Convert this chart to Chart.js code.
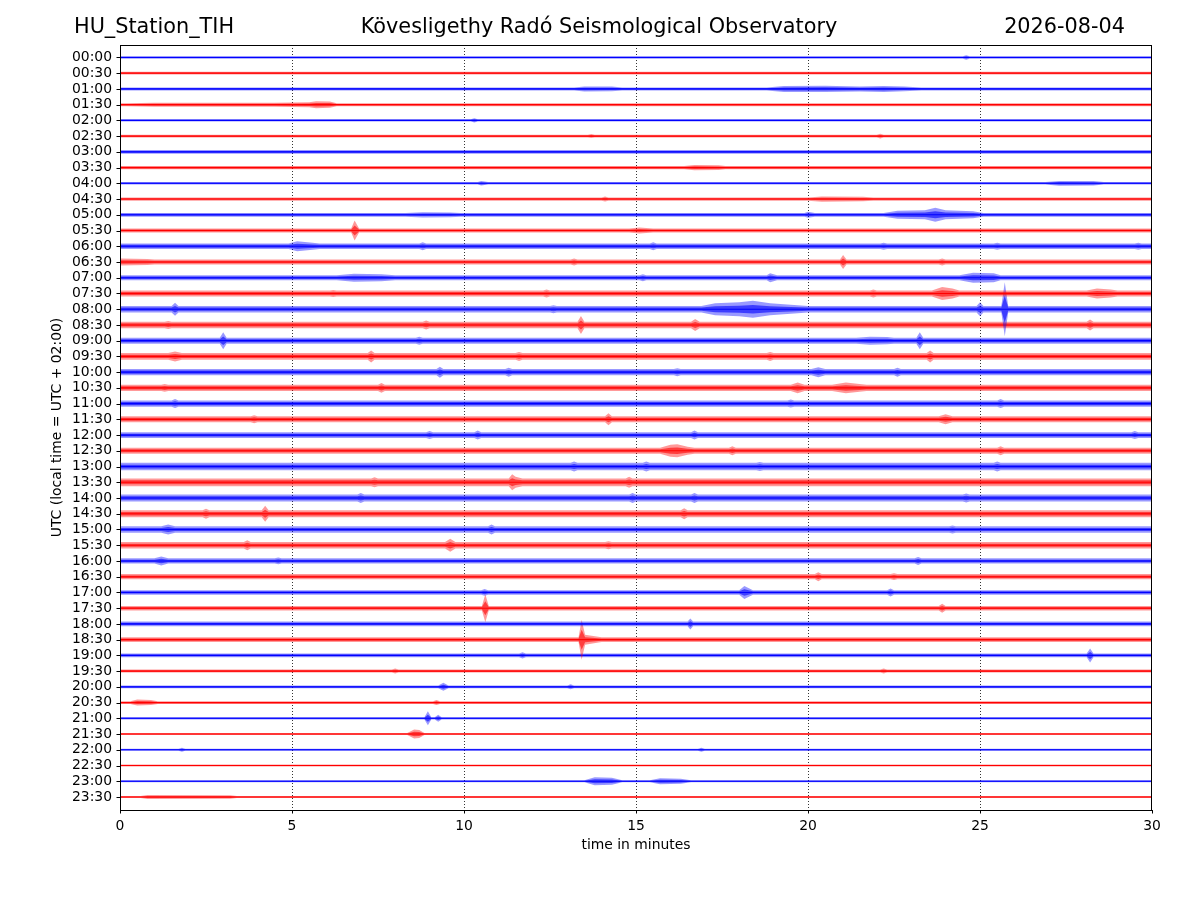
<!DOCTYPE html>
<html>
<head>
<meta charset="utf-8">
<script src="https://cdn.jsdelivr.net/npm/chart.js@4.4.1/dist/chart.umd.min.js"></script>
<style>
  html, body { margin: 0; padding: 0; background: #fff; }
  #wrap { width: 1200px; height: 900px; }
</style>
</head>
<body>
<div id="wrap"><canvas id="heli" width="1200" height="900"></canvas></div>
<script>
// Sor címkék (30 perces sávok, UTC)
const traceLabels = [
  "00:00", "00:30", "01:00", "01:30", "02:00", "02:30", "03:00", "03:30",
  "04:00", "04:30", "05:00", "05:30", "06:00", "06:30", "07:00", "07:30",
  "08:00", "08:30", "09:00", "09:30", "10:00", "10:30", "11:00", "11:30",
  "12:00", "12:30", "13:00", "13:30", "14:00", "14:30", "15:00", "15:30",
  "16:00", "16:30", "17:00", "17:30", "18:00", "18:30", "19:00", "19:30",
  "20:00", "20:30", "21:00", "21:30", "22:00", "22:30", "23:00", "23:30"
];

const minuteTicks = [0, 5, 10, 15, 20, 25, 30];

// Háttérzaj fél-amplitúdója soronként (leolvasott érték)
const noiseLevel = [
  1.3, 1.3, 1.5, 1.5, 1.2, 1.4, 1.9, 1.6,
  1.3, 1.6, 1.9, 2.0, 2.8, 2.6, 2.6, 3.0,
  3.2, 3.2, 3.0, 3.3, 3.2, 3.2, 3.1, 3.0,
  2.8, 3.0, 3.8, 3.9, 3.6, 3.6, 3.2, 3.2,
  2.6, 2.6, 2.3, 2.3, 2.3, 2.3, 1.9, 1.5,
  1.3, 1.4, 1.2, 1.0, 1.0, 1.0, 0.9, 0.9
];

// Események burkolója: [perc, fél-amplitúdó]; 0 = zajszint
const eventPoints = [
  [[24.5,0],[24.6,2.2],[24.7,0]],
  [],
  [[13.2,0],[13.5,2.5],[14.3,2.3],[14.6,0],[18.8,0],[19.3,3],[20.5,3.2],[21.5,2.5],[22.2,3],[22.8,2.4],[23.3,0]],
  [[0.2,0],[1,2],[4.5,2],[5.5,2.5],[5.7,3.5],[6.1,3.2],[6.3,0]],
  [[10.2,0],[10.3,2.2],[10.4,0]],
  [[13.6,0],[13.7,2],[13.8,0],[22.0,0],[22.1,2.4],[22.2,0]],
  [],
  [[16.4,0],[16.7,2.6],[17.4,2.4],[17.6,0]],
  [[10.4,0],[10.5,2.3],[10.7,0],[26.9,0],[27.3,2.4],[28.3,2.2],[28.6,0]],
  [[14.0,0],[14.1,2.5],[14.2,0],[20.0,0],[20.4,2.6],[21.6,2.3],[21.9,0]],
  [[8.3,0],[8.8,2.6],[9.6,2.4],[9.9,0],[19.9,0],[20.0,3],[20.2,0],[22.2,0],[22.6,4],[23.4,4.5],[23.7,7],[24.0,4.5],[24.8,3.5],[25.1,0]],
  [[6.72,0],[6.82,10],[6.95,0],[14.8,0],[15.1,3],[15.5,0]],
  [[4.9,0],[5.15,5],[5.6,3.5],[5.8,0],[8.7,0],[8.8,4],[8.9,0],[15.4,0],[15.5,4],[15.6,0],[22.1,0],[22.2,3.5],[22.3,0],[25.4,0],[25.5,3.6],[25.6,0],[29.5,0],[29.6,3.6],[29.7,0]],
  [[0,3.4],[0.8,3],[1.0,0],[13.1,0],[13.2,3.4],[13.3,0],[20.93,0],[21.02,7],[21.12,0],[23.8,0],[23.9,3.4],[24.0,0]],
  [[6.3,0],[6.8,4],[7.6,3.6],[8.0,0],[15.1,0],[15.2,3.4],[15.3,0],[18.8,0],[18.9,4.5],[19.1,0],[24.4,0],[24.8,5],[25.4,4.5],[25.6,0]],
  [[6.1,0],[6.2,3.5],[6.3,0],[12.3,0],[12.4,4],[12.5,0],[21.8,0],[21.9,4],[22.0,0],[23.6,0],[23.9,6.5],[24.2,5],[24.4,0],[28.1,0],[28.4,5],[28.8,4],[29.0,0]],
  [[1.5,0],[1.6,6.5],[1.7,0],[12.5,0],[12.6,4],[12.7,0],[16.9,0],[17.3,6],[18.0,7],[18.4,8.5],[18.9,6],[19.5,4.5],[20.0,0],[24.9,0],[25.0,7],[25.1,0],[25.62,0],[25.72,27],[25.82,0]],
  [[1.3,0],[1.4,4],[1.5,0],[8.8,0],[8.9,4.5],[9.0,0],[13.3,0],[13.4,9],[13.5,0],[16.6,0],[16.72,6],[16.85,0],[28.1,0],[28.2,5.5],[28.3,0]],
  [[2.9,0],[3.0,8.5],[3.1,0],[8.6,0],[8.7,4],[8.8,0],[21.4,0],[21.8,4],[22.3,3.6],[22.5,0],[23.15,0],[23.25,8.5],[23.35,0]],
  [[1.4,0],[1.6,5],[1.8,0],[7.2,0],[7.3,6],[7.4,0],[11.5,0],[11.6,4.5],[11.7,0],[18.8,0],[18.9,4.5],[19.0,0],[23.45,0],[23.55,6],[23.65,0]],
  [[9.2,0],[9.3,5.5],[9.4,0],[11.2,0],[11.3,4.5],[11.4,0],[16.1,0],[16.2,4],[16.3,0],[20.1,0],[20.3,5],[20.5,0],[22.5,0],[22.6,4.5],[22.7,0]],
  [[1.2,0],[1.3,4],[1.4,0],[7.5,0],[7.6,5],[7.7,0],[19.5,0],[19.7,5.5],[19.9,0],[20.7,0],[21.1,5.5],[21.5,4],[21.7,0]],
  [[1.5,0],[1.6,4.5],[1.7,0],[19.4,0],[19.5,4],[19.6,0],[25.5,0],[25.6,4.5],[25.7,0]],
  [[3.8,0],[3.9,4],[4.0,0],[14.1,0],[14.2,6],[14.3,0],[23.8,0],[24.0,5],[24.2,0]],
  [[8.9,0],[9.0,4],[9.1,0],[10.3,0],[10.4,4.5],[10.5,0],[16.6,0],[16.7,4.5],[16.8,0],[29.4,0],[29.5,4],[29.6,0]],
  [[15.7,0],[16.0,6],[16.2,6.5],[16.5,4],[16.7,0],[17.7,0],[17.8,4.5],[17.9,0],[25.5,0],[25.6,4.5],[25.7,0]],
  [[13.1,0],[13.2,5],[13.3,0],[15.2,0],[15.3,5],[15.4,0],[18.5,0],[18.6,4.5],[18.7,0],[25.4,0],[25.5,5],[25.6,0]],
  [[7.3,0],[7.4,5],[7.5,0],[11.3,0],[11.4,8],[11.5,5.5],[11.7,0],[14.7,0],[14.8,5.5],[14.9,0]],
  [[6.9,0],[7.0,5],[7.1,0],[14.8,0],[14.9,5],[15.0,0],[16.6,0],[16.7,5],[16.8,0],[24.5,0],[24.6,4.5],[24.7,0]],
  [[2.4,0],[2.5,5],[2.6,0],[4.12,0],[4.22,8],[4.32,0],[16.3,0],[16.4,5.5],[16.5,0]],
  [[1.2,0],[1.4,5],[1.6,0],[10.7,0],[10.8,5],[10.9,0],[24.1,0],[24.2,4],[24.3,0]],
  [[3.6,0],[3.7,5],[3.8,0],[9.45,0],[9.6,6.5],[9.75,0],[14.1,0],[14.2,4],[14.3,0]],
  [[1.0,0],[1.2,4.5],[1.4,0],[4.5,0],[4.6,3.4],[4.7,0],[23.1,0],[23.2,4],[23.3,0]],
  [[20.2,0],[20.3,4.5],[20.4,0],[22.4,0],[22.5,3.4],[22.6,0]],
  [[10.5,0],[10.6,3.4],[10.7,0],[18.0,0],[18.15,6.5],[18.4,0],[22.3,0],[22.4,4],[22.5,0]],
  [[10.52,0],[10.62,14],[10.72,0],[23.8,0],[23.9,4.5],[24.0,0]],
  [[16.5,0],[16.58,5.5],[16.66,0]],
  [[13.33,0],[13.42,20],[13.52,5],[14.0,0]],
  [[11.6,0],[11.7,3.2],[11.8,0],[28.1,0],[28.2,7],[28.3,0]],
  [[7.9,0],[8.0,2.5],[8.1,0],[22.1,0],[22.2,2.5],[22.3,0]],
  [[9.25,0],[9.4,4],[9.55,0],[13.0,0],[13.1,2.5],[13.2,0]],
  [[0.3,0],[0.5,3],[0.9,2.5],[1.1,0],[9.1,0],[9.2,2.5],[9.3,0]],
  [[8.85,0],[8.95,7],[9.05,0],[9.15,0],[9.25,3.5],[9.35,0]],
  [[8.35,0],[8.55,4.5],[8.7,4],[8.85,0]],
  [[1.7,0],[1.8,2],[1.9,0],[16.8,0],[16.9,2],[17.0,0]],
  [],
  [[13.5,0],[13.8,4],[14.3,3.5],[14.6,0],[15.4,0],[15.7,3],[16.3,2.5],[16.6,0]],
  [[0.6,0],[0.8,2],[3.2,1.8],[3.4,0]]
];

const FONT = '"DejaVu Sans", "Liberation Sans", sans-serif';
const ampToY = 1 / 15.75; // amplitúdó -> sortávolság egység
const lineCols = ['#0000ff', '#ff0000'];
const outerFill = ['rgba(0,0,255,0.4)', 'rgba(255,0,0,0.4)'];
const innerFill = ['rgba(0,0,255,0.6)', 'rgba(255,0,0,0.6)'];

// Adatsorok: külső burkoló (felső+alsó), belső burkoló (fél amplitúdó), középvonal
const datasets = [];
traceLabels.forEach((label, i) => {
  const n = noiseLevel[i];
  const env = [[0, n], ...eventPoints[i].map(p => [p[0], Math.max(p[1], n)]), [30, n]];
  const c = i % 2;
  const band = (k, col) => {
    datasets.push({
      data: env.map(p => ({ x: p[0], y: i - p[1] * k * ampToY })),
      borderColor: 'rgba(0,0,0,0)', pointRadius: 0, fill: false
    });
    datasets.push({
      data: env.map(p => ({ x: p[0], y: i + p[1] * k * ampToY })),
      borderColor: 'rgba(0,0,0,0)', pointRadius: 0, fill: '-1', backgroundColor: col
    });
  };
  band(1, outerFill[c]);
  band(0.5, innerFill[c]);
  datasets.push({
    data: [{ x: 0, y: i }, { x: 30, y: i }],
    borderColor: lineCols[c], borderWidth: 1.1, pointRadius: 0, fill: false
  });
});

// Keret, pontozott rács, tick jelek és feliratok
const framePlugin = {
  id: 'frame',
  beforeDatasetsDraw(chart) {
    const { ctx, chartArea: a, scales: { x } } = chart;
    ctx.save();
    ctx.strokeStyle = '#000';
    ctx.lineWidth = 0.8;
    ctx.setLineDash([1, 2]);
    minuteTicks.forEach(v => {
      if (v <= x.min || v >= x.max) return;
      const px = Math.round(x.getPixelForValue(v)) + 0.5;
      ctx.beginPath(); ctx.moveTo(px, a.top); ctx.lineTo(px, a.bottom); ctx.stroke();
    });
    ctx.restore();
  },
  afterDraw(chart) {
    const { ctx, chartArea: a, scales: { x, y } } = chart;
    ctx.save();
    ctx.strokeStyle = '#000';
    ctx.lineWidth = 1;
    ctx.strokeRect(a.left + 0.5, a.top + 0.5, a.right - a.left - 1, a.bottom - a.top);
    ctx.beginPath();
    minuteTicks.forEach(v => {
      const px = Math.round(x.getPixelForValue(v)) + 0.5;
      ctx.moveTo(px, a.bottom); ctx.lineTo(px, a.bottom + 3.5);
    });
    traceLabels.forEach((l, i) => {
      const py = Math.round(y.getPixelForValue(i)) + 0.5;
      ctx.moveTo(a.left, py); ctx.lineTo(a.left - 3.5, py);
    });
    ctx.stroke();

    ctx.fillStyle = '#000';
    ctx.textBaseline = 'middle';
    ctx.font = '20.8px ' + FONT;
    ctx.textAlign = 'left';
    ctx.fillText('HU_Station_TIH', 74, 28);
    ctx.textAlign = 'center';
    ctx.fillText('Kövesligethy Radó Seismological Observatory', 599, 28);
    ctx.textAlign = 'right';
    ctx.fillText('2026-08-04', 1125, 28);

    ctx.font = '13.9px ' + FONT;
    ctx.textAlign = 'center';
    ctx.fillText('time in minutes', (a.left + a.right) / 2, 845);
    ctx.translate(57, (a.top + a.bottom) / 2);
    ctx.rotate(-Math.PI / 2);
    ctx.fillText('UTC (local time = UTC + 02:00)', 0, 0);
    ctx.restore();
  }
};

new Chart(document.getElementById('heli'), {
  type: 'line',
  data: { datasets },
  options: {
    responsive: false,
    animation: false,
    layout: { padding: { top: 45, right: 48, left: 0, bottom: 0 } },
    plugins: { legend: { display: false }, tooltip: { enabled: false }, title: { display: false } },
    elements: { line: { tension: 0 } },
    scales: {
      x: {
        type: 'linear', min: 0, max: 30,
        afterBuildTicks: axis => { axis.ticks = minuteTicks.map(v => ({ value: v })); },
        afterFit: axis => { axis.height = 90; },
        grid: { display: false, drawTicks: false },
        border: { display: false },
        ticks: { padding: 8, color: '#000', font: { family: FONT, size: 13.9 }, maxRotation: 0 }
      },
      y: {
        type: 'linear', reverse: true, min: -0.79, max: 47.826,
        afterBuildTicks: axis => { axis.ticks = traceLabels.map((l, i) => ({ value: i })); },
        afterFit: axis => { axis.width = 120; },
        grid: { display: false, drawTicks: false },
        border: { display: false },
        ticks: {
          autoSkip: false, padding: 8, color: '#000',
          font: { family: FONT, size: 13.9 },
          callback: v => traceLabels[v]
        }
      }
    }
  },
  plugins: [framePlugin]
});
</script>
</body>
</html>
